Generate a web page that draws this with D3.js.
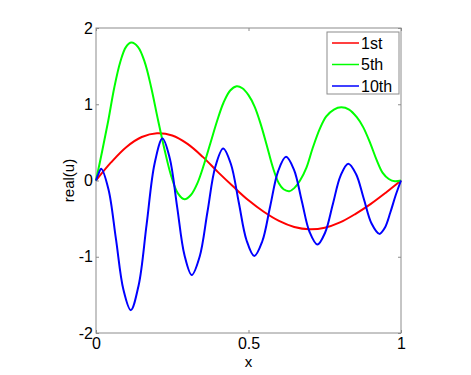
<!DOCTYPE html>
<html>
<head>
<meta charset="utf-8">
<script src="https://cdn.jsdelivr.net/npm/d3@7"></script>
<style>
  body { margin: 0; background: #fff; }
  text { font-family: "Liberation Sans", Arial, sans-serif; }
</style>
</head>
<body>
<div id="chart-container"></div>
<script>
// values
const firstX = [0, 0.05, 0.1, 0.15, 0.2, 0.25, 0.3, 0.35, 0.4, 0.45, 0.5, 0.55, 0.6, 0.65, 0.7, 0.75, 0.8, 0.85, 0.9, 0.95, 1]
const firstY = [0, 0.24, 0.44, 0.57, 0.62, 0.59, 0.48, 0.31, 0.11, -0.08, -0.26, -0.41, -0.53, -0.61, -0.64, -0.62, -0.55, -0.44, -0.31, -0.16, 0]

const fifthX = [0, 0.02, 0.04, 0.06, 0.08, 0.098, 0.116, 0.138, 0.16, 0.181, 0.203, 0.225, 0.2465, 0.268, 0.29, 0.311, 0.333, 0.354, 0.3755, 0.397, 0.418, 0.44, 0.461, 0.48, 0.5, 0.52, 0.54, 0.56, 0.58, 0.6, 0.615, 0.634, 0.65, 0.669, 0.69, 0.71, 0.734, 0.755, 0.78, 0.804, 0.83, 0.855, 0.876, 0.9, 0.92, 0.94, 0.96, 0.98, 1]
const fifthY = [0, 0.38, 0.78, 1.22, 1.56, 1.75, 1.81, 1.75, 1.55, 1.22, 0.8, 0.4, 0.06, -0.165, -0.245, -0.19, -0.03, 0.21, 0.495, 0.78, 1.02, 1.18, 1.235, 1.21, 1.12, 0.97, 0.74, 0.46, 0.17, -0.04, -0.115, -0.14, -0.1, 0, 0.17, 0.42, 0.68, 0.84, 0.93, 0.96, 0.93, 0.83, 0.7, 0.48, 0.27, 0.1, 0.02, -0.01, 0]

const tenthX = [0, 0.0085, 0.017, 0.041, 0.0655, 0.0898, 0.114, 0.14, 0.166, 0.192, 0.218, 0.242, 0.266, 0.29, 0.314, 0.34, 0.3655, 0.391, 0.417, 0.4425, 0.468, 0.4935, 0.519, 0.545, 0.571, 0.597, 0.623, 0.649, 0.6745, 0.7, 0.726, 0.751, 0.7765, 0.802, 0.827, 0.8525, 0.878, 0.9035, 0.929, 0.947, 0.965, 0.982, 1]
const tenthY = [0, 0.09, 0.155, -0.117, -0.77, -1.43, -1.7, -1.37, -0.575, 0.22, 0.55, 0.288, -0.345, -0.978, -1.24, -0.997, -0.41, 0.177, 0.42, 0.213, -0.285, -0.783, -0.99, -0.8, -0.34, 0.12, 0.31, 0.142, -0.265, -0.672, -0.84, -0.685, -0.31, 0.065, 0.22, 0.085, -0.24, -0.565, -0.7, -0.62, -0.42, -0.2, 0]

const xTicks = [0, 0.5, 1]
const yTicks = [-2, -1, 0, 1, 2]
const legend_keys = ["1st", "5th", "10th"]
const colors = ["#ff0000", "#00ff00", "#0000ff"]

const margin = {top: 28, right: 70, bottom: 42, left: 96};
const width = 401 - margin.left;
const height = 333 - margin.top;

const x = d3.scaleLinear().domain([0, 1]).range([0, width])
const y = d3.scaleLinear().domain([-2, 2]).range([height, 0])

const svg = d3.select("#chart-container")
    .append("svg")
        .attr("width", 471)
        .attr("height", 375)
    .append("g")
        .attr("transform", `translate(${margin.left}, ${margin.top})`)

// box
svg.append("rect")
    .attr("width", width).attr("height", height)
    .attr("fill", "none").attr("stroke", "#8c8c8c").attr("stroke-width", 1)

const tickLen = 3
const axisStyle = g => {
    g.select(".domain").remove()
    g.selectAll(".tick line").attr("stroke", "#8c8c8c")
    g.selectAll(".tick text").attr("fill", "#000").style("font-size", "16px")
}
const fmt = d => String(d)

svg.append("g")
    .attr("transform", `translate(0, ${height})`)
    .call(d3.axisBottom(x).tickValues(xTicks).tickFormat(fmt).tickSize(-tickLen).tickPadding(5))
    .call(axisStyle)
svg.append("g")
    .call(d3.axisTop(x).tickValues(xTicks).tickFormat("").tickSize(-tickLen))
    .call(axisStyle)
svg.append("g")
    .call(d3.axisLeft(y).tickValues(yTicks).tickFormat(fmt).tickSize(-tickLen).tickPadding(3))
    .call(axisStyle)
svg.append("g")
    .attr("transform", `translate(${width}, 0)`)
    .call(d3.axisRight(y).tickValues(yTicks).tickFormat("").tickSize(-tickLen))
    .call(axisStyle)

svg.append("text")
    .attr("x", width / 2).attr("y", height + 34)
    .attr("text-anchor", "middle").style("font-size", "15px")
    .text("x")
svg.append("text")
    .attr("transform", `translate(-22, ${height / 2}) rotate(-90)`)
    .attr("text-anchor", "middle").style("font-size", "15px")
    .text("real(u)")

const line = d3.line()
    .x(d => x(d[0]))
    .y(d => y(d[1]))
    .curve(d3.curveCatmullRom.alpha(0.5))

const series = [
    d3.zip(firstX, firstY),
    d3.zip(fifthX, fifthY),
    d3.zip(tenthX, tenthY)
]

series.forEach((s, i) => {
    svg.append("path")
        .datum(s)
        .attr("fill", "none")
        .attr("stroke", colors[i])
        .attr("stroke-width", 2)
        .attr("d", line)
})

// legend
const lg = svg.append("g").attr("transform", `translate(${327 - margin.left}, ${32 - margin.top})`)
lg.append("rect")
    .attr("width", 72).attr("height", 62)
    .attr("fill", "#fff").attr("stroke", "#8c8c8c")

const lineLegend = lg.selectAll(".lineLegend")
    .data(legend_keys)
    .enter().append("g")
    .attr("class", "lineLegend")
    .attr("transform", (d, i) => `translate(0, ${11 + i * 21.5})`)

lineLegend.append("line")
    .attr("x1", 5).attr("x2", 32)
    .attr("stroke", (d, i) => colors[i]).attr("stroke-width", 1.5)
lineLegend.append("text")
    .attr("x", 34).attr("dy", "0.36em")
    .style("font-size", "16px")
    .text(d => d)
</script>
</body>
</html>
